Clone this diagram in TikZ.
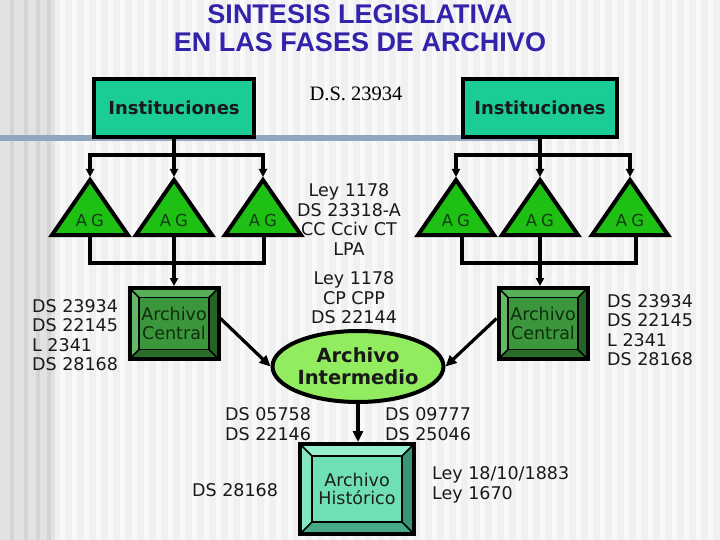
\documentclass[tikz,border=0pt]{standalone}
\usepackage{fontspec}
\setmainfont{DejaVu Sans}
\newfontfamily\titlefont{Liberation Sans}
\newfontfamily\dsserif{Liberation Serif}
\usetikzlibrary{arrows.meta,shapes.geometric}
\definecolor{bgbase}{RGB}{240,240,240}
\definecolor{bgstripe}{RGB}{249,249,249}
\definecolor{bgleft}{RGB}{226,226,226}
\definecolor{bgleftdark}{RGB}{212,212,212}
\definecolor{titleblue}{RGB}{51,34,170}
\definecolor{instfill}{RGB}{28,204,150}
\definecolor{trifill}{RGB}{30,192,20}
\definecolor{agtxt}{RGB}{20,60,20}
\definecolor{ellfill}{RGB}{146,236,96}
\definecolor{bandblue}{RGB}{146,166,192}
\definecolor{ctrface}{RGB}{60,150,60}
\definecolor{ctrtop}{RGB}{86,176,86}
\definecolor{ctrleft}{RGB}{100,186,100}
\definecolor{ctrbot}{RGB}{40,110,40}
\definecolor{ctrright}{RGB}{36,100,36}
\definecolor{ctrtxt}{RGB}{14,46,14}
\definecolor{hisface}{RGB}{110,224,180}
\definecolor{histop}{RGB}{150,240,206}
\definecolor{hisleft}{RGB}{130,232,194}
\definecolor{hisbot}{RGB}{70,170,134}
\definecolor{hisright}{RGB}{56,150,116}
\definecolor{histxt}{RGB}{30,30,30}
\newcommand\bevbox[8]{%
 \fill[#7face] ({#2-#4},{#3-#5}) rectangle ({#2+#4},{#3+#5});
 \fill[#7top] ({#2-#4},{#3-#5}) -- ({#2+#4},{#3-#5}) -- ({#2+#4-#6},{#3-#5+#6}) -- ({#2-#4+#6},{#3-#5+#6}) -- cycle;
 \fill[#7left] ({#2-#4},{#3-#5}) -- ({#2-#4+#6},{#3-#5+#6}) -- ({#2-#4+#6},{#3+#5-#6}) -- ({#2-#4},{#3+#5}) -- cycle;
 \fill[#7bot] ({#2-#4},{#3+#5}) -- ({#2-#4+#6},{#3+#5-#6}) -- ({#2+#4-#6},{#3+#5-#6}) -- ({#2+#4},{#3+#5}) -- cycle;
 \fill[#7right] ({#2+#4},{#3-#5}) -- ({#2+#4-#6},{#3-#5+#6}) -- ({#2+#4-#6},{#3+#5-#6}) -- ({#2+#4},{#3+#5}) -- cycle;
 \draw[bevline] ({#2-#4+#6},{#3-#5+#6}) rectangle ({#2+#4-#6},{#3+#5-#6});
 \draw[bevline] ({#2-#4},{#3-#5}) -- ({#2-#4+#6},{#3-#5+#6})
   ({#2+#4},{#3-#5}) -- ({#2+#4-#6},{#3-#5+#6})
   ({#2-#4},{#3+#5}) -- ({#2-#4+#6},{#3+#5-#6})
   ({#2+#4},{#3+#5}) -- ({#2+#4-#6},{#3+#5-#6});
 \node[bevframe, text=#7txt, minimum width={2*#4}, minimum height={2*#5}] (#1) at (#2,#3) {#8};
}
\newcommand\agtri[3]{%
 \coordinate (#1-apex) at (#2,180);
 \coordinate (#1-base) at (#3,235);
 \draw[trishape] (#2,180) -- ({#2+38},235) -- ({#2-38},235) -- cycle;
 \node[agtext] (#1) at (#2,220) {A\hspace{4pt}G};
}
\begin{document}
\begin{tikzpicture}[x=1pt,y=-1pt,
  title/.style={font=\titlefont\bfseries\fontsize{27}{28}\selectfont, text=titleblue, align=center, inner sep=0},
  inst/.style={draw, line width=4, fill=instfill, font=\bfseries\fontsize{18}{20}\selectfont, text=black!90, inner sep=0, minimum height=58},
  lbl/.style={font=\fontsize{17.5}{19.5}\selectfont, inner sep=0, text=black!90},
  bevline/.style={line width=1.5, draw=black},
  bevframe/.style={draw=black, line width=4, inner sep=0, align=center, font=\fontsize{17.5}{18.5}\selectfont},
  trishape/.style={draw=black, line width=4, fill=trifill, line join=miter},
  agtext/.style={font=\fontsize{16.5}{17}\selectfont, text=agtxt, inner sep=0},
  conn/.style={draw=black, line width=3.2},
  arr/.style={conn, -{Triangle[length=8pt,width=8pt]}},
  arrbig/.style={conn, -{Triangle[length=11pt,width=10pt]}}
]
\useasboundingbox (0,0) rectangle (720,540);
% background
\fill[bgbase] (0,0) rectangle (720,540);
\foreach \x in {60,72,...,710} \fill[bgstripe] (\x,0) rectangle (\x+5,540);
\fill[bgleft] (0,0) rectangle (55,540);
\foreach \x in {10,24,36,47} \fill[bgleftdark] (\x,0) rectangle (\x+4,540);
\fill[bandblue] (0,135) rectangle (540,141);

% title
\node[title] (title) at (360,28) {SINTESIS LEGISLATIVA\\EN LAS FASES DE ARCHIVO};

% top boxes
\node[inst, minimum width=160] (instL) at (174,108) {Instituciones};
\node[inst, minimum width=154] (instR) at (540,108) {Instituciones};
\node[font=\dsserif\fontsize{20.5}{22}\selectfont, inner sep=0] (ds) at (356,94) {D.S. 23934};

% triangles
\agtri{tL1}{90}{90}
\agtri{tL2}{174}{174}
\agtri{tL3}{263}{264}
\agtri{tR1}{456}{462}
\agtri{tR2}{540}{540}
\agtri{tR3}{630}{636}

% beveled boxes
\bevbox{acl}{174}{323.5}{44.5}{35.5}{9.5}{ctr}{Archivo\\Central}
\bevbox{acr}{543}{323.5}{44.5}{35.5}{9.5}{ctr}{Archivo\\Central}
\bevbox{ah}{357}{489}{57}{45}{12}{his}{Archivo\\Histórico}

% ellipse
\node[ellipse, draw=black, line width=4, fill=ellfill, minimum width=158, minimum height=71, inner sep=0,
  align=center, font=\bfseries\fontsize{19.5}{22}\selectfont, text=black!90] (ai) at (358,366.5) {Archivo\\Intermedio};

% connectors left group
\coordinate (jL) at (174,155);
\coordinate (kL) at (174,263);
\draw[conn] (instL.south) -- (jL);
\draw[arr, shorten >=3pt] (jL) -| (tL1-apex);
\draw[arr, shorten >=3pt] (jL) -- (tL2-apex);
\draw[arr, shorten >=3pt] (jL) -| (tL3-apex);
\draw[conn] (tL1-base) |- (kL) -| (tL3-base);
\draw[conn] (tL2-base) -- (kL);
\draw[arr] (kL) -- (kL |- acl.north);

% connectors right group
\coordinate (jR) at (540,155);
\coordinate (kR) at (540,263);
\draw[conn] (instR.south) -- (jR);
\draw[arr, shorten >=3pt] (jR) -| (tR1-apex);
\draw[arr, shorten >=3pt] (jR) -- (tR2-apex);
\draw[arr, shorten >=3pt] (jR) -| (tR3-apex);
\draw[conn] (tR1-base) |- (kR) -| (tR3-base);
\draw[conn] (tR2-base) -- (kR);
\draw[arr] (kR) -- (kR |- acr.north);

% to Archivo Intermedio and Historico
\draw[arrbig] ([yshift=5pt]acl.east) -- (ai.west);
\draw[arrbig] ([yshift=5pt]acr.west) -- (ai.east);
\draw[arrbig] (ai.south) -- (ai.south |- ah.north);

% labels
\node[lbl, align=left, anchor=west] (lstL) at (32,335) {DS 23934\\DS 22145\\L 2341\\DS 28168};
\node[lbl, align=left, anchor=west] (lstR) at (607,330) {DS 23934\\DS 22145\\L 2341\\DS 28168};
\node[lbl, align=center] (ctr1) at (349,219.5) {Ley 1178\\DS 23318-A\\CC Cciv CT\\LPA};
\node[lbl, align=center] (ctr2) at (354,298) {Ley 1178\\CP CPP\\DS 22144};
\node[lbl, align=left, anchor=west] (ds1) at (225,424) {DS 05758\\DS 22146};
\node[lbl, align=left, anchor=west] (ds2) at (385,424) {DS 09777\\DS 25046};
\node[lbl, anchor=west] (ds3) at (192,490.5) {DS 28168};
\node[lbl, align=left, anchor=west] (ley) at (432,485) {Ley 18/10/1883\\Ley 1670};
\end{tikzpicture}
\end{document}
